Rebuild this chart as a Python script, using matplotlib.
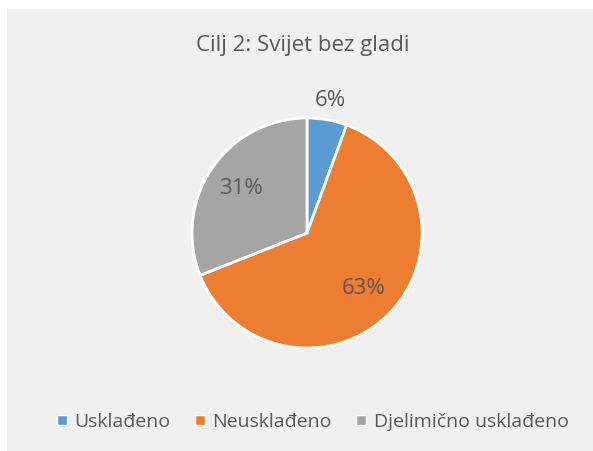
import matplotlib
matplotlib.use('Agg')
import matplotlib.pyplot as plt
from matplotlib.patches import Rectangle
from matplotlib.lines import Line2D
import numpy as np

# data
labels = ['Usklađeno', 'Neusklađeno', 'Djelimično usklađeno']
values = [5.6, 63.4, 31.0]
colors = ['#5B9BD5', '#ED7D31', '#A5A5A5']
title = 'Cilj 2: Svijet bez gladi'

plt.rcParams['font.family'] = ['Open Sans', 'DejaVu Sans']
txt = '#595959'

W, H = 593, 451
fig = plt.figure(figsize=(W / 100, H / 100), dpi=100, facecolor='white')

# light gray chart area
fig.patches.append(Rectangle((7 / W, 0), 1, 1 - 9 / H, transform=fig.transFigure,
                             facecolor='#F0F0F0', edgecolor='none', zorder=-1))

cx, cy, r = 307, 233, 115
ax = fig.add_axes([(cx - r) / W, (H - cy - r) / H, 2 * r / W, 2 * r / H])
wedges, _, autotexts = ax.pie(values, colors=colors, startangle=90, counterclock=False,
                              autopct='%.0f%%', radius=1,
                              wedgeprops=dict(edgecolor='white', linewidth=2),
                              textprops=dict(color=txt, fontsize=16))
dist = [1.17, 0.69, 0.69]
for w, t, d in zip(wedges, autotexts, dist):
    a = np.deg2rad((w.theta1 + w.theta2) / 2)
    t.set_position((d * np.cos(a), d * np.sin(a)))
ax.set_xlim(-1, 1)
ax.set_ylim(-1, 1)
ax.axis('off')

fig.text(0.51, 1 - 46 / H, title, ha='center', va='center', fontsize=16, color=txt)

handles = [Line2D([], [], marker='s', linestyle='none', markersize=7,
                  markerfacecolor=c, markeredgecolor='white', markeredgewidth=1)
           for c in colors]
fig.legend(handles, labels, loc='center', bbox_to_anchor=(0.525, 1 - 422 / H), ncol=3,
           frameon=False, fontsize=14, labelcolor=txt, handletextpad=0.25,
           columnspacing=1.1, handlelength=0.8)

fig.savefig('out.png', dpi=100, facecolor=fig.get_facecolor())
